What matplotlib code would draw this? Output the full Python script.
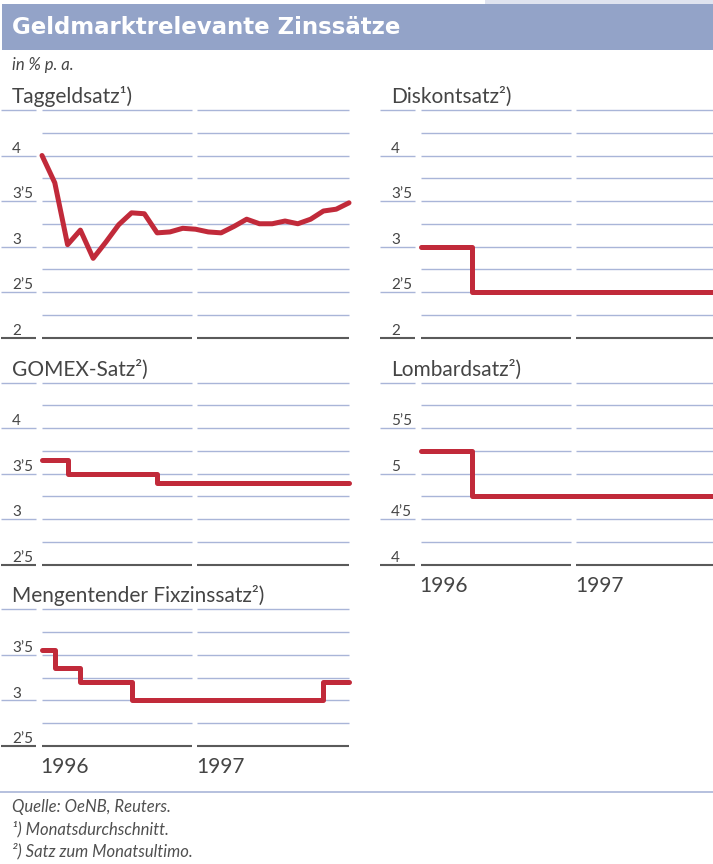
import matplotlib.pyplot as plt
import matplotlib.transforms as mtransforms
from matplotlib.patches import Rectangle
from matplotlib.lines import Line2D
import numpy as np

# data (months from Jan 1996, 0..24)
months = np.arange(25)
taggeld = [4.00, 3.70, 3.02, 3.18, 2.87, 3.05, 3.24, 3.37, 3.36, 3.15, 3.16, 3.20, 3.19,
           3.16, 3.15, 3.22, 3.30, 3.25, 3.25, 3.28, 3.25, 3.30, 3.39, 3.41, 3.48]

diskont_x = [0, 4, 24]
diskont_y = [3.00, 2.50, 2.50]

gomex_x = [0, 2, 9, 24]
gomex_y = [3.65, 3.50, 3.40, 3.40]

lombard_x = [0, 4, 24]
lombard_y = [5.25, 4.75, 4.75]

mengen_x = [0, 1, 3, 7, 22, 24]
mengen_y = [3.55, 3.35, 3.20, 3.00, 3.20, 3.20]

years = ["1996", "1997"]

W, H = 713, 864
RED = "#c12a3a"
GRID = "#a9b5d8"
DARK = "#5a5a5a"
TXT = "#454545"

plt.rcParams['font.family'] = ['Lato', 'DejaVu Sans']

fig = plt.figure(figsize=(W / 100, H / 100), dpi=100)

# header band
fig.patches.append(Rectangle((485 / W, 1 - 4 / H), (W - 485) / W, 4 / H,
                             transform=fig.transFigure, color="#dfe3ef", lw=0))
fig.patches.append(Rectangle((2 / W, 1 - 50 / H), (W - 2) / W, 46 / H,
                             transform=fig.transFigure, color="#93a3c8", lw=0))
fig.text(12 / W, 1 - 27 / H, "Geldmarktrelevante Zinssätze", color="white",
         fontsize=16.5, fontweight="heavy", family=["DejaVu Sans"], va="center")
fig.text(12 / W, 1 - 70 / H, "in % p. a.", color=TXT, fontsize=12,
         style="italic", va="baseline")

SEGS = [(0.0, 0.4886), (0.5065, 1.0)]
LABCOL = (-0.132, -0.019)


def fmt(v):
    return str(int(v)) if v == int(v) else f"{int(v)}’5"


def panel(left, top, ymin, ymax, title, show_years=False):
    bottom = top + (ymax - ymin) * 91
    ax = fig.add_axes([left / W, 1 - bottom / H, 307 / W, (bottom - top) / H])
    ax.set_xlim(0, 24)
    ax.set_ylim(ymin, ymax)
    ax.axis("off")
    tr = ax.get_yaxis_transform()
    for lv in np.arange(ymin, ymax + 0.01, 0.25):
        base = lv == ymin
        col, lw = (DARK, 1.5) if base else (GRID, 1.0)
        for a, b in SEGS:
            ax.plot([a, b], [lv, lv], transform=tr, color=col, lw=lw,
                    clip_on=False, solid_capstyle="butt", zorder=1)
        half = abs(lv * 2 - round(lv * 2)) < 1e-6
        if half or abs(lv - ymax) < 1e-6:
            ax.plot(LABCOL, [lv, lv], transform=tr, color=col, lw=lw,
                    clip_on=False, solid_capstyle="butt", zorder=1)
        if half and abs(lv - ymax) > 1e-6:
            ax.text(-0.097, lv, fmt(lv), transform=mtransforms.offset_copy(
                tr, fig, y=2, units="points"), va="baseline", ha="left",
                fontsize=11, color=TXT)
    ax.text(-0.097, ymax, title, transform=mtransforms.offset_copy(
        tr, fig, y=5, units="points"), va="baseline", ha="left",
        fontsize=15, color=TXT)
    if show_years:
        for xa, yr in zip([-0.005, 0.502], years):
            ax.text(xa, ymin, yr, transform=mtransforms.offset_copy(
                tr, fig, y=-19.5, units="points"), va="baseline", ha="left",
                fontsize=15, color=TXT)
    return ax


kw = dict(color=RED, lw=3.6, solid_capstyle="round", solid_joinstyle="round",
          clip_on=False, zorder=3)

ax1 = panel(42, 110, 2.0, 4.5, "Taggeldsatz¹)")
ax1.plot(months, taggeld, **kw)

ax2 = panel(421, 110, 2.0, 4.5, "Diskontsatz²)")
ax2.plot(diskont_x, diskont_y, drawstyle="steps-post", **kw)

ax3 = panel(42, 382.7, 2.5, 4.5, "GOMEX-Satz²)")
ax3.plot(gomex_x, gomex_y, drawstyle="steps-post", **kw)

ax4 = panel(421, 382.7, 4.0, 6.0, "Lombardsatz²)", show_years=True)
ax4.plot(lombard_x, lombard_y, drawstyle="steps-post", **kw)

ax5 = panel(42, 609.3, 2.5, 4.0, "Mengentender Fixzinssatz²)", show_years=True)
ax5.plot(mengen_x, mengen_y, drawstyle="steps-post", **kw)

# footer
fig.lines.append(Line2D([0, 1], [1 - 791.7 / H] * 2, transform=fig.transFigure,
                        color=GRID, lw=1.2))
notes = ["Quelle: OeNB, Reuters.", "¹) Monatsdurchschnitt.", "²) Satz zum Monatsultimo."]
for i, t in enumerate(notes):
    fig.text(12 / W, 1 - (812 + 22 * i) / H, t, fontsize=12, style="italic",
             color="#505050", va="baseline")

fig.savefig("out.png", dpi=100)
